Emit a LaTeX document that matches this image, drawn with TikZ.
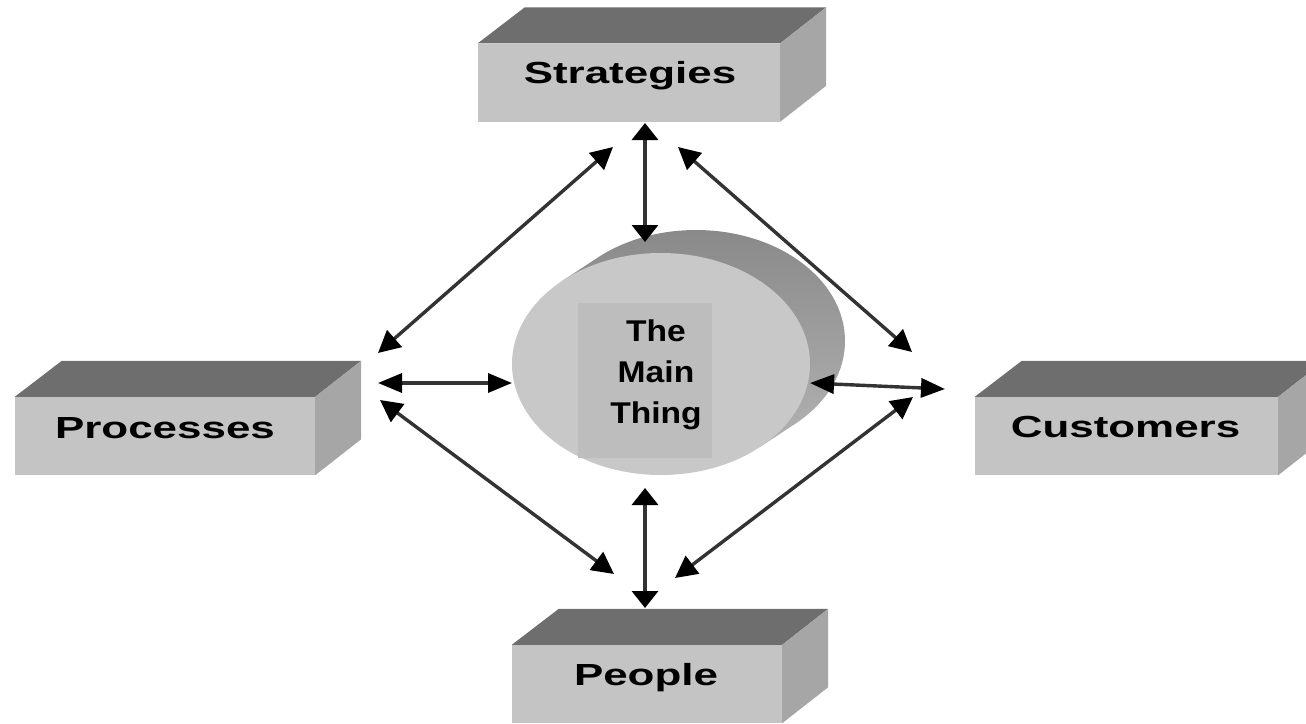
\documentclass[tikz,border=0pt]{standalone}
\usepackage{fontspec}
\setmainfont{Liberation Sans}
\newfontfamily\boxfont[FakeStretch=1.44]{Liberation Sans}
\newfontfamily\centerfont[FakeStretch=1.12]{Liberation Sans}
\usetikzlibrary{arrows.meta,calc,shapes.geometric}
\definecolor{frontc}{HTML}{C4C4C4}
\definecolor{topc}{HTML}{6E6E6E}
\definecolor{sidec}{HTML}{A6A6A6}
\definecolor{ellc}{HTML}{C8C8C8}
\definecolor{rectc}{HTML}{BDBDBD}
\definecolor{cyltop}{HTML}{878787}
\definecolor{cylbot}{HTML}{B2B2B2}
\definecolor{linec}{HTML}{333333}
\newcommand\boxsides[1]{%
  \fill[topc] (#1.north west) -- ($(#1.north west)+(47,-36)$) -- ($(#1.north east)+(46,-36)$) -- (#1.north east) -- cycle;
  \fill[sidec] (#1.north east) -- ($(#1.north east)+(46,-36)$) -- ($(#1.south east)+(46,-36)$) -- (#1.south east) -- cycle;}
\tikzset{
  frontface/.style={rectangle, fill=frontc, inner sep=0pt, minimum height=78pt},
  boxlabel/.style={anchor=base, inner sep=0pt, font=\boxfont\bfseries\fontsize{30.5}{36}\selectfont},
  conn/.style={line width=3.4pt, draw=linec},
  vtips/.style={conn, {Triangle[length=17pt,width=26pt,color=black]}-{Triangle[length=17pt,width=26pt,color=black]}},
  htips/.style={conn, {Triangle[length=24pt,width=19pt,color=black]}-{Triangle[length=24pt,width=19pt,color=black]}},
  dtips/.style={conn, {Triangle[length=22pt,width=22pt,color=black]}-{Triangle[length=22pt,width=22pt,color=black]}}
}
\begin{document}
\begin{tikzpicture}[x=1pt,y=-1pt]
\clip (0,0) rectangle (1306,723);
\fill[white] (0,0) rectangle (1306,723);

% boxes
\node[frontface, minimum width=302pt] (strat) at (629,82.5) {};
\node[frontface, minimum width=300pt] (proc) at (165,436) {};
\node[frontface, minimum width=303pt] (cust) at (1126.5,436) {};
\node[frontface, minimum width=270pt] (peop) at (647,684) {};
\boxsides{strat}
\boxsides{proc}
\boxsides{cust}
\boxsides{peop}
\node[boxlabel] (strat-t) at ($(strat.north)+(1,40)$) {Strategies};
\node[boxlabel] (proc-t) at ($(proc.north)+(0,42)$) {Processes};
\node[boxlabel] (cust-t) at ($(cust.north)+(-1,41)$) {Customers};
\node[boxlabel] (peop-t) at ($(peop.north)+(-1,41)$) {People};

% cylinder
\coordinate (fc) at (661,364);
\coordinate (bc) at (696,341);
\shade[top color=cyltop, bottom color=cylbot]
  ($(bc)+(228.6:149 and 111)$) arc[start angle=228.6, end angle=408.6, x radius=149, y radius=111]
  -- ($(fc)+(48.6:149 and 111)$) -- ($(fc)+(228.6:149 and 111)$) -- cycle;
\node[ellipse, fill=ellc, inner sep=0pt, minimum width=298pt, minimum height=222pt] (main) at (fc) {};
\node[rectangle, fill=rectc, inner sep=0pt, minimum width=134pt, minimum height=155pt] (mainbg) at (645,380) {};
\node[align=center, inner sep=0pt, font=\centerfont\bfseries\fontsize{30}{41}\selectfont] (maintxt) at (656,375) {The\\Main\\Thing};

% arrow end points
\coordinate (a1) at (645,123);  \coordinate (b1) at (645,242);
\coordinate (a2) at (613,147);  \coordinate (b2) at (378,353);
\coordinate (a3) at (678,147);  \coordinate (b3) at (912,352);
\coordinate (a4) at (378,383);  \coordinate (b4) at (512,383);
\coordinate (a5) at (810,383);  \coordinate (b5) at (945,389);
\coordinate (a6) at (380,400);  \coordinate (b6) at (614,574);
\coordinate (a7) at (913,397);  \coordinate (b7) at (675,578);
\coordinate (a8) at (645,488);  \coordinate (b8) at (645,608);

\draw[vtips] (a1) -- (b1);
\draw[dtips] (a2) -- (b2);
\draw[dtips] (a3) -- (b3);
\draw[htips] (a4) -- (b4);
\draw[htips] (a5) -- (b5);
\draw[dtips] (a6) -- (b6);
\draw[dtips] (a7) -- (b7);
\draw[vtips] (a8) -- (b8);
\end{tikzpicture}
\end{document}
